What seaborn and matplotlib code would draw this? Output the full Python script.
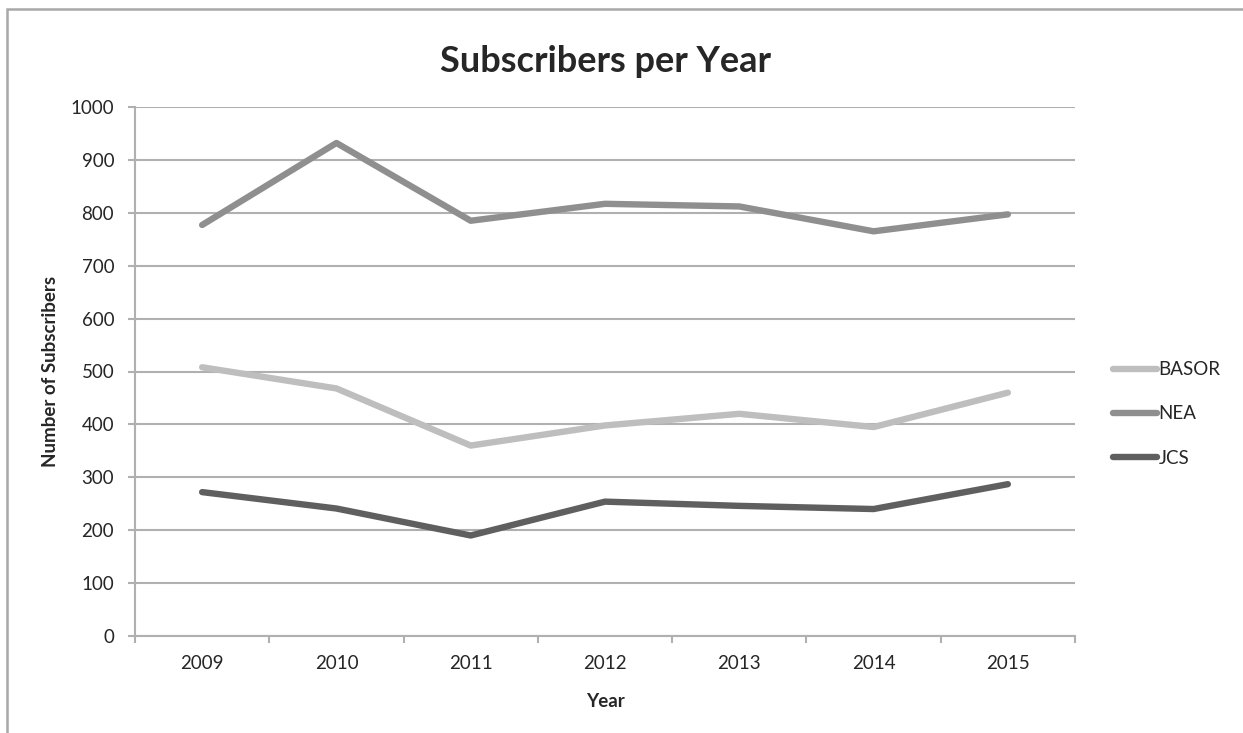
"""
Subscribers per year for three journals (BASOR, NEA, JCS), 2009-2015.
"""

import pandas as pd
import matplotlib
matplotlib.use('Agg')
import matplotlib.pyplot as plt
from matplotlib.patches import Rectangle
from matplotlib.ticker import FixedLocator
import seaborn as sns

# ── Data ──────────────────────────────────────────────────────────────────
years = [2009, 2010, 2011, 2012, 2013, 2014, 2015]
basor = [508, 468, 360, 398, 420, 395, 460]
nea = [777, 932, 785, 817, 812, 765, 797]
jcs = [272, 241, 190, 254, 246, 240, 287]
series = ['BASOR', 'NEA', 'JCS']
colors = ['#bebebe', '#8f8f8f', '#5f5f5f']

df = pd.DataFrame({
    'Year': years * 3,
    'Subscribers': basor + nea + jcs,
    'Journal': [s for s in series for _ in years],
})

# ── Style ─────────────────────────────────────────────────────────────────
sns.set_theme(style='white')
plt.rcParams['font.family'] = ['Lato', 'DejaVu Sans']
GRID = '#b0b0b0'

fig = plt.figure(figsize=(12.43, 7.33), dpi=100)
ax = fig.add_axes([135 / 1243, 1 - 636 / 733, (1075 - 135) / 1243, (636 - 107) / 733])

sns.lineplot(data=df, x='Year', y='Subscribers', hue='Journal',
             palette=dict(zip(series, colors)), linewidth=4.6,
             solid_capstyle='round', ax=ax, legend=True)

ax.set_xlim(years[0] - 0.5, years[-1] + 0.5)
ax.set_ylim(0, 1000)
ax.set_yticks(range(0, 1001, 100))
ax.set_xticks(years)
ax.set_xticklabels([str(y) for y in years])
ax.xaxis.set_minor_locator(FixedLocator([y - 0.5 for y in years] + [years[-1] + 0.5]))

ax.yaxis.grid(True, color=GRID, linewidth=1.5)
ax.set_axisbelow(True)
for side in ['top', 'right']:
    ax.spines[side].set_visible(False)
for side in ['left', 'bottom']:
    ax.spines[side].set_color(GRID)
    ax.spines[side].set_linewidth(1.5)

ax.tick_params(axis='y', which='major', direction='out', length=5, width=1.5,
               color=GRID, pad=10, labelsize=13.5, left=True)
ax.tick_params(axis='x', which='major', length=0, pad=14, labelsize=13.5)
ax.tick_params(axis='x', which='minor', direction='out', length=5, width=1.5,
               color=GRID, bottom=True)

ax.set_title('Subscribers per Year', fontsize=26, fontweight='bold', pad=25)
ax.set_xlabel('Year', fontsize=13.5, fontweight='bold', labelpad=15)
ax.set_ylabel('Number of Subscribers', fontsize=13.5, fontweight='bold', labelpad=8)

leg = ax.legend(loc='center left', bbox_to_anchor=(1.022, 0.42), frameon=False,
                fontsize=13.5, handlelength=2.35, handletextpad=0.1,
                labelspacing=1.45, title=None)
for line in leg.get_lines():
    line.set_linewidth(4.6)
    line.set_solid_capstyle('round')

# chart frame (top and left edges)
fig.patches.append(Rectangle((7 / 1243, -0.05), 1.2, 1 - 9 / 733 + 0.05,
                             transform=fig.transFigure, fill=False,
                             edgecolor='#a8a8a8', linewidth=1.8))

fig.savefig('out.png', dpi=100, facecolor='white')
